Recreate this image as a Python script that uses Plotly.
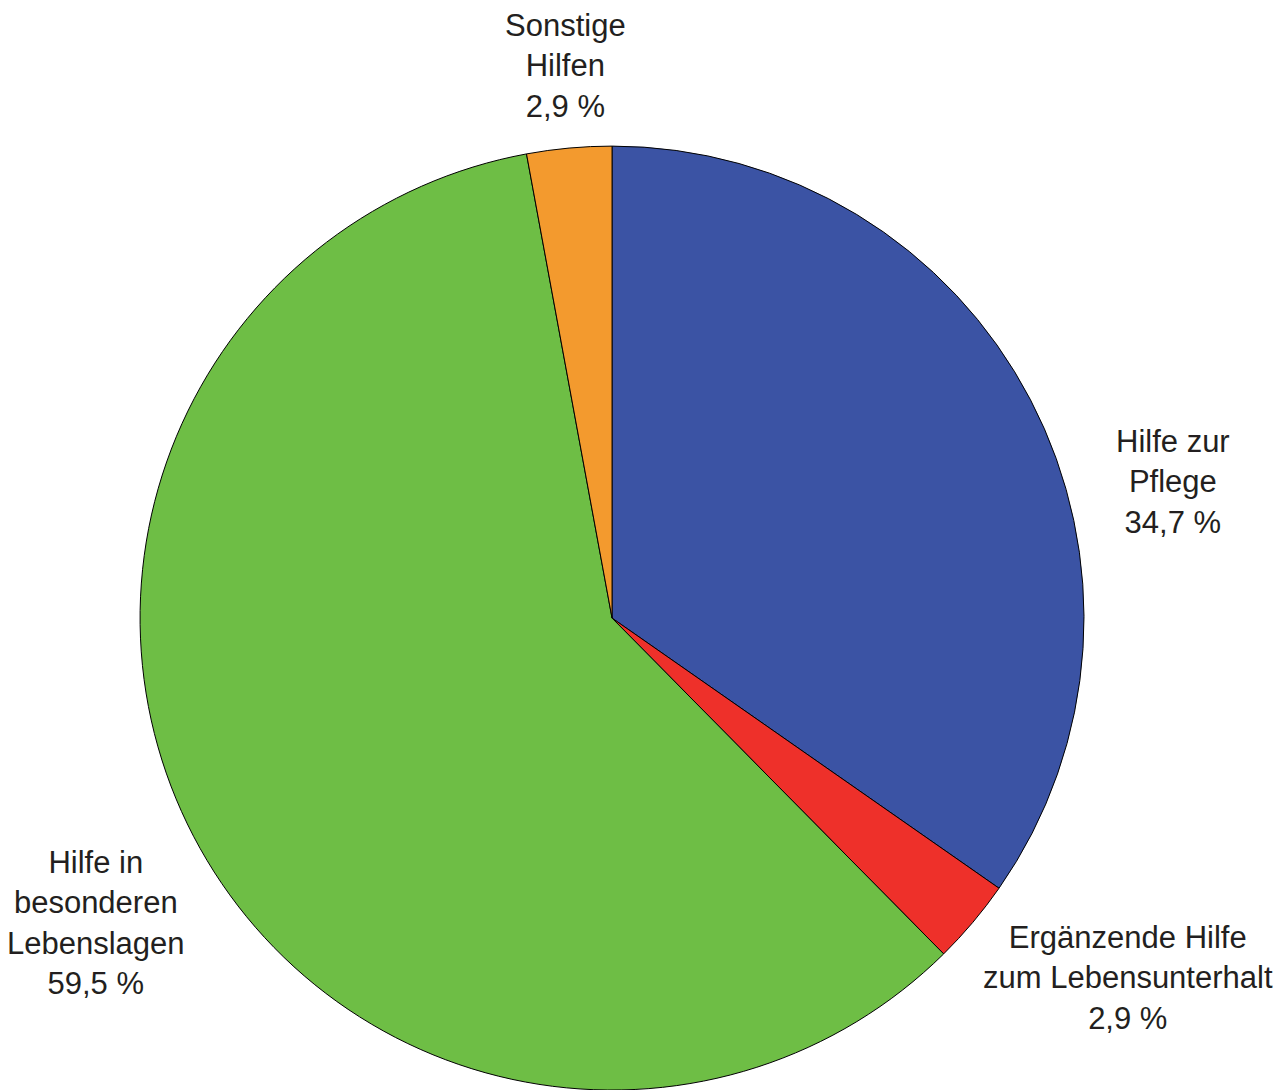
import plotly.graph_objects as go

categories = ["Hilfe zur<br>Pflege", "Ergänzende Hilfe<br>zum Lebensunterhalt",
              "Hilfe in<br>besonderen<br>Lebenslagen", "Sonstige<br>Hilfen"]
values = [34.7, 2.9, 59.5, 2.9]
value_labels = ["34,7 %", "2,9 %", "59,5 %", "2,9 %"]
colors = ["#3B53A4", "#EE302A", "#6EBE45", "#F39A2E"]

# label anchor points (paper coords)
label_x = [0.9059, 0.8709, 0.0685, 0.4339]
label_y = [0.5651, 0.1101, 0.1605, 0.9467]

fig = go.Figure(go.Pie(
    values=values,
    labels=[c.replace("<br>", " ") for c in categories],
    sort=False,
    direction="clockwise",
    rotation=0,
    marker=dict(colors=colors, line=dict(color="#000000", width=1)),
    textinfo="none",
    hoverinfo="label+percent",
    showlegend=False,
    domain=dict(x=[0.1019, 0.8375], y=[0.0073, 0.8733]),
))

for cat, val, x, y in zip(categories, value_labels, label_x, label_y):
    fig.add_annotation(
        text=f"{cat}<br>{val}", x=x, y=y, xref="paper", yref="paper",
        xanchor="center", yanchor="middle", showarrow=False, align="center",
        font=dict(family="Liberation Sans", size=31, color="#231F20"),
    )

fig.update_layout(
    width=1286, height=1090,
    margin=dict(l=0, r=0, t=0, b=0),
    paper_bgcolor="white", plot_bgcolor="white",
)

fig.write_html("out.html")
